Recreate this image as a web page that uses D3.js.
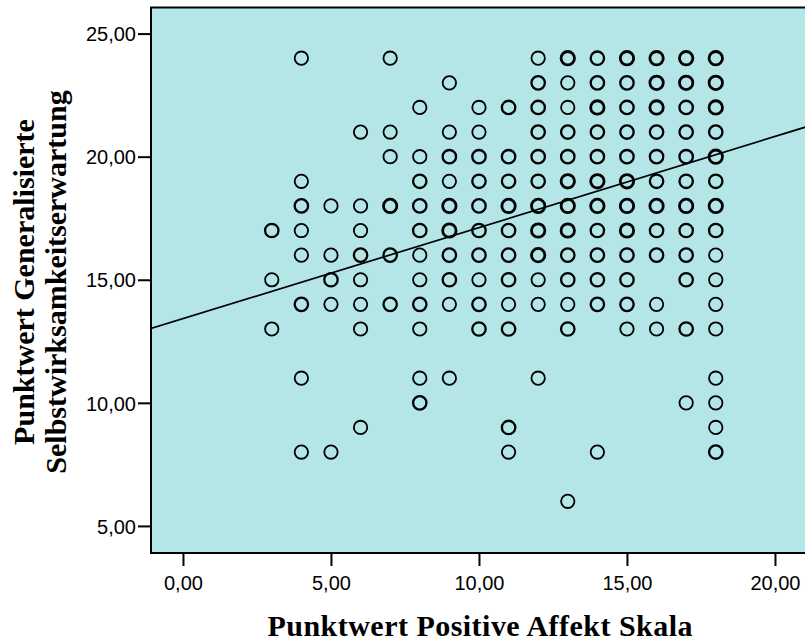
<!DOCTYPE html>
<html>
<head>
<meta charset="utf-8">
<script src="https://cdn.jsdelivr.net/npm/d3@7"></script>
<style>
  html, body { margin: 0; padding: 0; background: #ffffff; }
  svg { display: block; }
</style>
</head>
<body>
<svg id="chart" width="805" height="643"></svg>
<script>
// Score on the Positive Affect scale (x) and on Generalised Self-Efficacy (y).
// Each column lists [selfEfficacy, cases] pairs for one affect score; cases > 1
// means several respondents share that exact position.
const affectScores = [3, 4, 5, 6, 7, 8, 9, 10, 11, 12, 13, 14, 15, 16, 17, 18];
const efficacyByAffect = [
  [[17, 2], [15, 1], [13, 1]],
  [[24, 1], [19, 1], [18, 2], [17, 1], [16, 1], [14, 2], [11, 1], [8, 1]],
  [[18, 1], [16, 1], [15, 2], [14, 1], [8, 1]],
  [[21, 1], [18, 1], [17, 1], [16, 2], [15, 1], [14, 1], [13, 1], [9, 1]],
  [[24, 1], [21, 1], [20, 1], [18, 3], [16, 2], [14, 2]],
  [[22, 1], [20, 1], [19, 2], [18, 2], [17, 2], [16, 1], [15, 1], [14, 2], [13, 1], [11, 1], [10, 2]],
  [[23, 1], [21, 1], [20, 2], [19, 1], [18, 3], [17, 3], [16, 2], [15, 2], [14, 1], [11, 1]],
  [[22, 1], [21, 1], [20, 2], [19, 2], [18, 2], [17, 2], [16, 2], [15, 1], [14, 2], [13, 2]],
  [[22, 2], [20, 2], [19, 2], [18, 3], [17, 2], [16, 2], [15, 2], [14, 1], [13, 2], [9, 2], [8, 1]],
  [[24, 1], [23, 2], [22, 2], [21, 2], [20, 2], [19, 2], [18, 3], [17, 3], [16, 3], [15, 1], [14, 1], [11, 1]],
  [[24, 3], [23, 1], [22, 1], [21, 2], [20, 2], [19, 3], [18, 3], [17, 3], [16, 2], [15, 2], [14, 1], [13, 2], [6, 1]],
  [[24, 2], [23, 2], [22, 3], [21, 2], [20, 2], [19, 3], [18, 3], [17, 2], [16, 2], [15, 2], [14, 2], [8, 1]],
  [[24, 3], [23, 2], [22, 2], [21, 2], [20, 2], [19, 3], [18, 3], [17, 3], [16, 2], [15, 2], [14, 2], [13, 1]],
  [[24, 3], [23, 3], [22, 3], [21, 2], [20, 2], [19, 2], [18, 3], [17, 2], [16, 2], [14, 1], [13, 1]],
  [[24, 3], [23, 3], [22, 2], [21, 2], [20, 2], [19, 2], [18, 3], [17, 2], [16, 2], [15, 2], [13, 2], [10, 1]],
  [[24, 3], [23, 3], [22, 3], [21, 2], [20, 3], [19, 2], [18, 3], [17, 2], [16, 1], [15, 1], [14, 1], [13, 1], [11, 1], [10, 1], [9, 1], [8, 2]]
];

// Linear fit (total population)
const fitIntercept = 13.42;
const fitSlope = 0.37;

const xTickValues = [0, 5, 10, 15, 20];
const yTickValues = [5, 10, 15, 20, 25];
const xTitle = "Punktwert Positive Affekt Skala";
const yTitleLines = ["Punktwert Generalisierte", "Selbstwirksamkeitserwartung"];

const points = [];
affectScores.forEach((a, i) => {
  efficacyByAffect[i].forEach(([e, n]) => points.push({ x: a, y: e, n: n }));
});

const fmt = v => d3.format(".2f")(v).replace(".", ",");

const svg = d3.select("#chart");
const plot = { left: 151, right: 811, top: 7.5, bottom: 553 };

const x = d3.scaleLinear().domain([-1.08, 21.2]).range([plot.left, plot.left + 22.28 * 29.6]);
const y = d3.scaleLinear().domain([3.9, 26.06]).range([plot.bottom, plot.top]);

// Plot background and frame
svg.append("rect")
  .attr("x", plot.left).attr("y", plot.top)
  .attr("width", plot.right - plot.left).attr("height", plot.bottom - plot.top)
  .attr("fill", "#b4e5e7").attr("stroke", "#000").attr("stroke-width", 2);

svg.append("clipPath").attr("id", "plotClip")
  .append("rect")
  .attr("x", plot.left + 1).attr("y", plot.top + 1)
  .attr("width", plot.right - plot.left - 2).attr("height", plot.bottom - plot.top - 2);

// Axes
const xAxis = svg.append("g")
  .attr("transform", `translate(0,${plot.bottom})`)
  .call(d3.axisBottom(x).tickValues(xTickValues).tickFormat(fmt).tickSize(13).tickSizeOuter(0));
const yAxis = svg.append("g")
  .attr("transform", `translate(${plot.left},0)`)
  .call(d3.axisLeft(y).tickValues(yTickValues).tickFormat(fmt).tickSize(13).tickSizeOuter(0));

[xAxis, yAxis].forEach(g => {
  g.select(".domain").remove();
  g.selectAll(".tick line").attr("stroke", "#000").attr("stroke-width", 2);
  g.selectAll(".tick text")
    .attr("fill", "#000")
    .style("font-family", "'Liberation Sans', Arial, sans-serif")
    .style("font-size", "20px");
});
xAxis.selectAll(".tick text").attr("y", 23).attr("dy", "0.71em");
yAxis.selectAll(".tick text").attr("x", -15).attr("dy", "0.36em");

// Scatter points
const g = svg.append("g").attr("clip-path", "url(#plotClip)");
g.selectAll("circle.pt")
  .data(points)
  .join("circle")
  .attr("class", "pt")
  .attr("cx", d => x(d.x))
  .attr("cy", d => y(d.y))
  .attr("r", 6.7)
  .attr("fill", "none")
  .attr("stroke", "#000")
  .attr("stroke-width", d => d.n >= 3 ? 2.8 : d.n === 2 ? 2.3 : 1.8);

// Fit line across the full x range
const [x0, x1] = x.domain();
g.append("line")
  .attr("x1", x(x0)).attr("y1", y(fitIntercept + fitSlope * x0))
  .attr("x2", x(x1)).attr("y2", y(fitIntercept + fitSlope * x1))
  .attr("stroke", "#000").attr("stroke-width", 1.7);

// Axis titles
svg.append("text")
  .attr("x", 480).attr("y", 636)
  .attr("text-anchor", "middle")
  .attr("textLength", 425)
  .attr("lengthAdjust", "spacing")
  .style("font-family", "'Liberation Serif', 'Times New Roman', serif")
  .style("font-weight", "bold")
  .style("font-size", "30px")
  .text(xTitle);

const yt = svg.append("text")
  .attr("transform", "translate(34,282) rotate(-90)")
  .attr("text-anchor", "middle")
  .style("font-family", "'Liberation Serif', 'Times New Roman', serif")
  .style("font-weight", "bold")
  .style("font-size", "30px");
yt.selectAll("tspan")
  .data(yTitleLines)
  .join("tspan")
  .attr("x", 0)
  .attr("y", (d, i) => i * 32)
  .text(d => d);
</script>
</body>
</html>
